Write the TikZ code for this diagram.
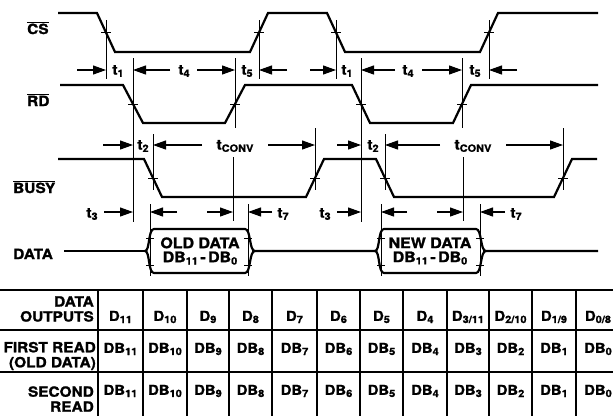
\documentclass[tikz,border=0pt]{standalone}
\usepackage{fontspec}
\newfontfamily\hv[FakeStretch=1.1,BoldFeatures={FakeBold=1.4}]{TeX Gyre Heros}
\usetikzlibrary{arrows.meta}
\newcommand\ovl[1]{$\overline{\hbox{#1}}$}
\newcommand\sbs[1]{\raisebox{-0.3ex}{\fontsize{10}{10}\selectfont #1}}
\begin{document}
\begin{tikzpicture}[x=1pt,y=-1pt,
  sig/.style={line width=2.2pt,line join=miter},
  vl/.style={line width=1pt},
  arr/.style={line width=1.1pt,-{Triangle[length=13pt,width=9pt]}},
  tick/.style={line width=1pt},
  lbl/.style={font=\hv\bfseries\fontsize{14}{15}\selectfont,inner sep=0pt},
  cell/.style={font=\hv\bfseries\fontsize{13.5}{14}\selectfont,inner sep=0pt,align=center},
  hexlbl/.style={font=\hv\bfseries\fontsize{14.5}{14}\selectfont,inner sep=0pt,align=center},
  hdr/.style={font=\hv\bfseries\fontsize{14}{15}\selectfont,inner sep=0pt,align=right,anchor=east},
  grid/.style={line width=1.4pt}]
\useasboundingbox (0,0) rectangle (613,416);
% signal names
\node[lbl,anchor=base west] (ncs) at (27,34) {\ovl{CS}};
\node[lbl,anchor=base west] (nrd) at (27,106) {\ovl{RD}};
\node[lbl,anchor=base west] (nbusy) at (13,193) {\ovl{BUSY}};
\node[lbl,anchor=base west] (ndata) at (13,259) {DATA};
% CS
\draw[sig] (58,13) -- (97,13) -- (115,52) -- (250,52) -- (268,13) -- (327,13) -- (345,52) -- (480,52) -- (498,13) -- (598,13);
% RD
\draw[sig] (60,85) -- (123,85) -- (143,123) -- (225,123) -- (245,85) -- (352,85) -- (370,123) -- (453,123) -- (471,85) -- (598,85);
% BUSY
\draw[sig] (58,159) -- (144,159) -- (162,197) -- (306,197) -- (324,159) -- (376,159) -- (394,197) -- (554,197) -- (572,159) -- (597,159);
% DATA
\draw[sig] (64,251) -- (145,251);
\draw[sig] (145,251) .. controls (150,251) and (148,229) .. (154,229) -- (245,229) .. controls (251,229) and (249,251) .. (255,251) -- (375,251);
\draw[sig] (145,251) .. controls (150,251) and (148,273) .. (154,273) -- (245,273) .. controls (251,273) and (249,251) .. (255,251);
\draw[sig] (375,251) .. controls (380,251) and (378,229) .. (384,229) -- (476,229) .. controls (482,229) and (480,251) .. (486,251) -- (598,251);
\draw[sig] (375,251) .. controls (380,251) and (378,273) .. (384,273) -- (476,273) .. controls (482,273) and (480,251) .. (486,251);
% crossing ticks
\foreach \x/\y in {106/32,259/32,336/32,489/32,133/104,235/104,361/104,462/104,153/178,315/178,385/178,563/178}
  \draw[tick] (\x-5,\y) -- (\x+5,\y);
\foreach \x in {150,248,381,480}{
  \draw[tick] (\x-4,238) -- (\x+4,238);
  \draw[tick] (\x-4,265) -- (\x+4,265);}
% vertical reference lines
\draw[vl] (106,20) -- (106,79);
\draw[vl] (259,20) -- (259,79);
\draw[vl] (336,20) -- (336,79);
\draw[vl] (489,20) -- (489,79);
\draw[vl] (133,58) -- (133,222);
\draw[vl] (235,58) -- (235,128);
\draw[vl] (361,58) -- (361,222);
\draw[vl] (462,58) -- (462,128);
\draw[vl] (153,134) -- (153,190);
\draw[vl] (315,128) -- (315,190);
\draw[vl] (385,134) -- (385,190);
\draw[vl] (563,128) -- (563,190);
\draw[vl] (233,157) -- (233,221);
\draw[vl] (463,157) -- (463,221);
\draw[vl] (150,204) -- (150,276);
\draw[vl] (248,204) -- (248,276);
\draw[vl] (381,204) -- (381,276);
\draw[vl] (480,204) -- (480,276);
% t1 row
\draw[arr] (77,70) -- (106,70);
\node[lbl] (t1a) at (118,71) {t\sbs{1}};
\draw[arr] (170,70) -- (133,70);
\node[lbl] (t4a) at (184,71) {t\sbs{4}};
\draw[arr] (197,70) -- (235,70);
\node[lbl] (t5a) at (247,71) {t\sbs{5}};
\draw[arr] (287,70) -- (259,70);
\draw[arr] (310,70) -- (336,70);
\node[lbl] (t1b) at (347,71) {t\sbs{1}};
\draw[arr] (395,70) -- (361,70);
\node[lbl] (t4b) at (408,71) {t\sbs{4}};
\draw[arr] (422,70) -- (462,70);
\node[lbl] (t5b) at (475,71) {t\sbs{5}};
\draw[arr] (517,70) -- (489,70);
% t2 row
\draw[arr] (103,145) -- (133,145);
\node[lbl] (t2a) at (143,146) {t\sbs{2}};
\draw[arr] (202,145) -- (153,145);
\node[lbl] (tca) at (235,146) {t\sbs{CONV}};
\draw[arr] (268,145) -- (315,145);
\draw[arr] (337,145) -- (361,145);
\node[lbl] (t2b) at (373,146) {t\sbs{2}};
\draw[arr] (440,145) -- (385,145);
\node[lbl] (tcb) at (473,146) {t\sbs{CONV}};
\draw[arr] (506,145) -- (563,145);
% t3 row
\node[lbl] (t3a) at (92,214) {t\sbs{3}};
\draw[arr] (104,212) -- (133,212);
\draw[arr] (177,212) -- (150,212);
\draw[arr] (207,212) -- (233,212);
\draw[arr] (272,212) -- (248,212);
\node[lbl] (t7a) at (283,214) {t\sbs{7}};
\node[lbl] (t3b) at (325,214) {t\sbs{3}};
\draw[arr] (337,212) -- (361,212);
\draw[arr] (407,212) -- (381,212);
\draw[arr] (437,212) -- (463,212);
\draw[arr] (505,212) -- (480,212);
\node[lbl] (t7b) at (516,214) {t\sbs{7}};
% data labels
\node[hexlbl] (dold) at (200,251) {OLD DATA\\DB\sbs{11}\,-\,DB\sbs{0}};
\node[hexlbl] (dnew) at (430,251) {NEW DATA\\DB\sbs{11}\,-\,DB\sbs{0}};
% table
\draw[grid] (0,290) -- (613,290);
\draw[grid] (0,330) -- (613,330);
\draw[grid] (0,372) -- (613,372);
\foreach \x in {98,143,187,229,272,317,360,403,447,489,532,576}
  \draw[grid] (\x,290) -- (\x,416);
\node[hdr] (h1) at (94,309) {DATA\\OUTPUTS};
\node[hdr] (h2) at (96,356) {FIRST READ\\(OLD DATA)};
\node[hdr] (h3) at (94,399) {SECOND\\READ};
\foreach \c/\a/\b/\s/\t in {0/98/143/11/11,1/143/187/10/10,2/187/229/9/9,3/229/272/8/8,4/272/317/7/7,5/317/360/6/6,6/360/403/5/5,7/403/447/4/4,8/447/489/3/{3/11},9/489/532/2/{2/10},10/532/576/1/{1/9},11/576/620/0/{0/8}}{
  \node[cell] (hd\c) at ({(\a+\b)/2},317) {D\sbs{\t}};
  \node[cell] (fa\c) at ({(\a+\b)/2},349) {DB\sbs{\s}};
  \node[cell] (sa\c) at ({(\a+\b)/2},391) {DB\sbs{\s}};
}
\end{tikzpicture}
\end{document}
